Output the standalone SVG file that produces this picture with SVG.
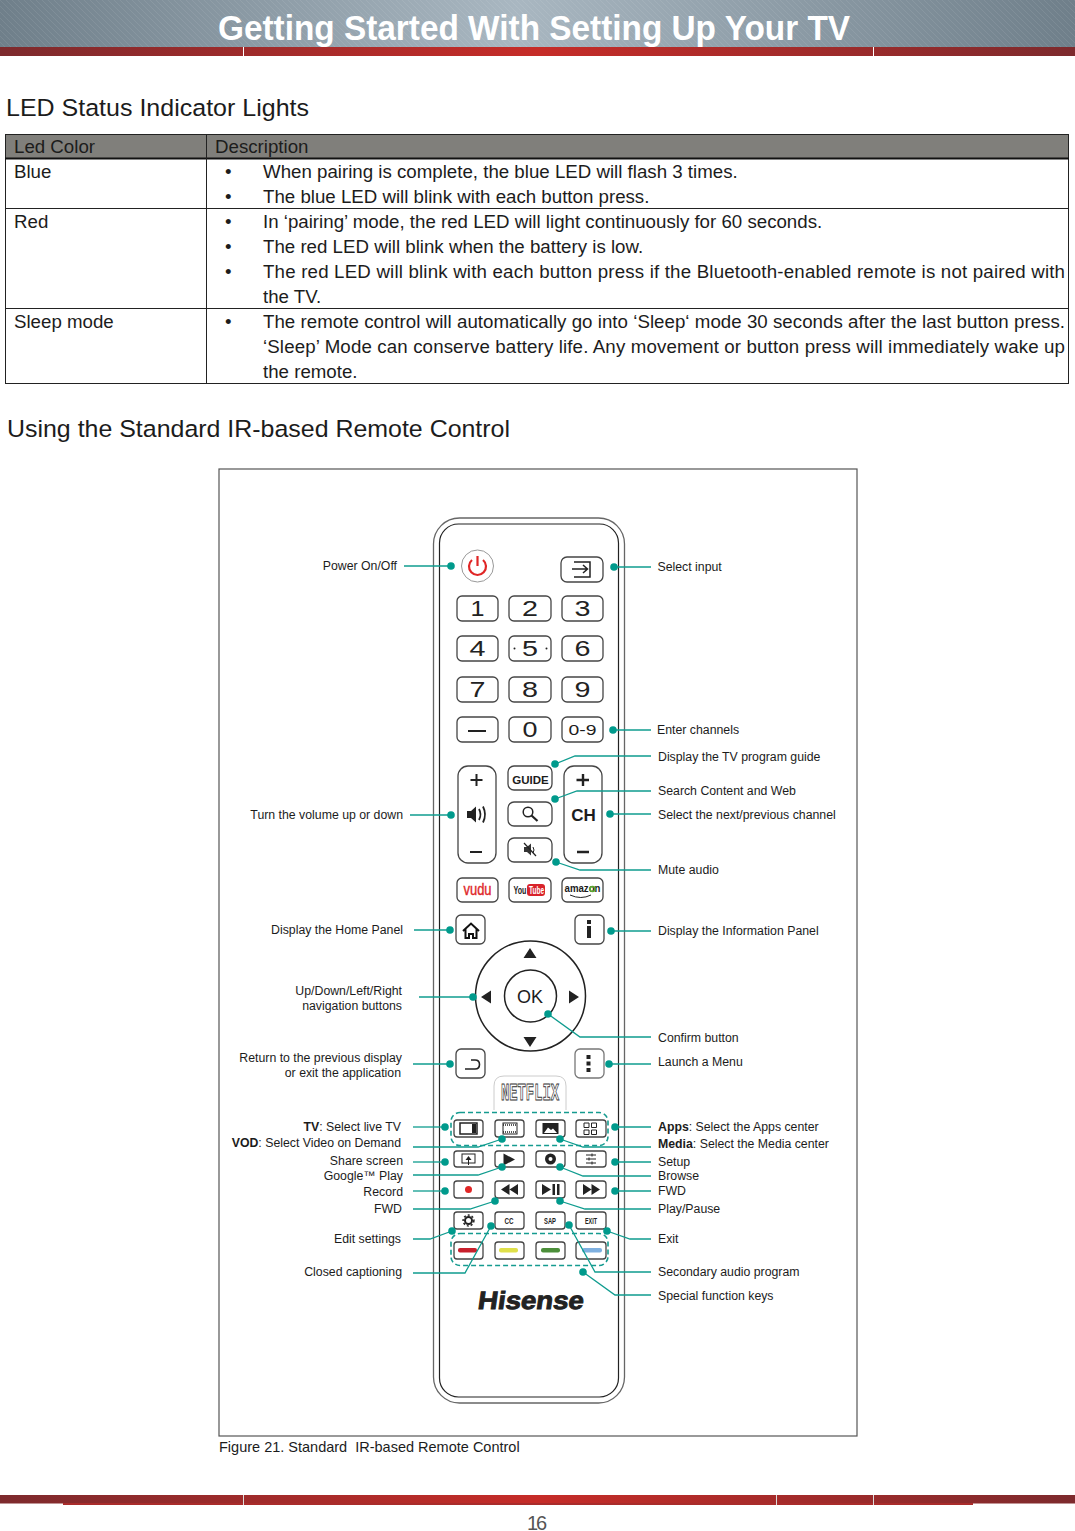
<svg xmlns="http://www.w3.org/2000/svg" width="1075" height="1531" viewBox="0 0 1075 1531">
<style>
text{font-family:"Liberation Sans",Arial,sans-serif;fill:#1c1c1c}
.h{font-size:24.5px}
.t{font-size:18.7px}
.lb{font-size:12.3px}
.b{fill:#fff;stroke:#454545;stroke-width:1.3}
.ic{fill:none;stroke:#222;stroke-width:1.8}
.i1{stroke-width:1}
.i15{stroke-width:1.5}
.f{fill:#222}
.dg{font-size:22px;text-anchor:middle;fill:#222}
.sm{font-size:9px;text-anchor:middle;font-weight:bold;fill:#222}
.l{fill:none;stroke:#0f9c8f;stroke-width:1.3}
.d{fill:#009a8c}
.ds{fill:none;stroke:#159b90;stroke-width:1.6;stroke-dasharray:5 3}
</style>
<defs>
<linearGradient id="gr" x1="0" x2="1" y1="0" y2="0"><stop offset="0" stop-color="#6f7f8a"/><stop offset=".48" stop-color="#a9b7c1"/><stop offset="1" stop-color="#6f7f8a"/></linearGradient>
<linearGradient id="rd" x1="0" x2="1" y1="0" y2="0"><stop offset="0" stop-color="#7d2a2d"/><stop offset=".5" stop-color="#c62c28"/><stop offset="1" stop-color="#7d2a2d"/></linearGradient>
<pattern id="ht" width="6" height="6" patternUnits="userSpaceOnUse"><path d="M0 0L6 6" stroke="#fff" stroke-opacity=".08" stroke-width="1"/></pattern>
</defs>
<rect width="1075" height="1531" fill="#fff"/>
<g id="header">
<rect width="1075" height="47" fill="url(#gr)"/><rect width="1075" height="47" fill="url(#ht)"/>
<rect y="47" width="1075" height="9" fill="url(#rd)"/>
<path d="M243.500 47V56M873.500 47V56" stroke="#fff"/>
<text x="218" y="40" font-size="35" font-weight="bold" style="fill:#fff" textLength="632" lengthAdjust="spacingAndGlyphs">Getting Started With Setting Up Your TV</text>
</g>
<text class="h" x="6" y="116" textLength="303" lengthAdjust="spacingAndGlyphs">LED Status Indicator Lights</text>
<g id="led-table">
<rect x="5.500" y="134.500" width="1063" height="24" fill="#807f7b"/>
<rect x="5.500" y="134.500" width="1063" height="249" fill="none" stroke="#222" stroke-width="1"/>
<path d="M5 158.500H1069" stroke="#111" stroke-width="2"/>
<path d="M5 208.500H1069M5 308.500H1069M206.500 134V384" stroke="#222" stroke-width="1"/>
<text class="t" x="14" y="153">Led Color</text><text class="t" x="215" y="153">Description</text>
<text class="t" x="14" y="178">Blue</text><text class="t" x="14" y="228">Red</text><text class="t" x="14" y="328">Sleep mode</text>
<text class="t" x="225" y="178">•</text><text class="t" x="263" y="178">When pairing is complete, the blue LED will flash 3 times.</text>
<text class="t" x="225" y="203">•</text><text class="t" x="263" y="203">The blue LED will blink with each button press.</text>
<text class="t" x="225" y="228">•</text><text class="t" x="263" y="228">In ‘pairing’ mode, the red LED will light continuously for 60 seconds.</text>
<text class="t" x="225" y="253">•</text><text class="t" x="263" y="253">The red LED will blink when the battery is low.</text>
<text class="t" x="225" y="278">•</text><text class="t" x="263" y="278" textLength="802">The red LED will blink with each button press if the Bluetooth-enabled remote is not paired with</text>
<text class="t" x="263" y="303">the TV.</text>
<text class="t" x="225" y="328">•</text><text class="t" x="263" y="328" textLength="802">The remote control will automatically go into ‘Sleep‘ mode 30 seconds after the last button press.</text>
<text class="t" x="263" y="353" textLength="802">‘Sleep’ Mode can conserve battery life. Any movement or button press will immediately wake up</text>
<text class="t" x="263" y="378">the remote.</text>
</g>
<text class="h" x="7" y="437" textLength="503" lengthAdjust="spacingAndGlyphs">Using the Standard IR-based Remote Control</text>
<rect id="figure-frame" x="219" y="469" width="638" height="967" fill="none" stroke="#555" stroke-width="1.200"/>
<g id="remote-body">
<rect x="433.500" y="518" width="191" height="885" rx="26" fill="#fff" stroke="#666" stroke-width="1.300"/>
<rect x="439.500" y="524" width="179" height="873" rx="19" fill="#fff" stroke="#222" stroke-width="1.200"/>
</g>
<g id="btn-power"><circle cx="477.500" cy="566" r="16" fill="#fff" stroke="#999"/><path d="M472 560a8.500 8.500 0 1 0 11 0M477.500 556V566" fill="none" stroke="#e02626" stroke-width="2.200"/></g>
<g id="btn-input"><rect class="b" x="561" y="557" width="42" height="25" rx="6"/><path class="ic i15" d="M572 569H587M583 565L587.500 569L583 573M574 562H590V577H574"/></g>
<g id="btn-1"><rect class="b" x="457" y="596" width="41" height="25" rx="5"/><text class="dg" x="477.500" y="616" textLength="14" lengthAdjust="spacingAndGlyphs">1</text></g>
<g id="btn-2"><rect class="b" x="509" y="596" width="42" height="25" rx="5"/><text class="dg" x="530" y="616" textLength="16" lengthAdjust="spacingAndGlyphs">2</text></g>
<g id="btn-3"><rect class="b" x="562" y="596" width="41" height="25" rx="5"/><text class="dg" x="582.500" y="616" textLength="16" lengthAdjust="spacingAndGlyphs">3</text></g>
<g id="btn-4"><rect class="b" x="457" y="636" width="41" height="25" rx="5"/><text class="dg" x="477.500" y="656" textLength="16" lengthAdjust="spacingAndGlyphs">4</text></g>
<g id="btn-5"><rect class="b" x="509" y="636" width="42" height="25" rx="5"/><text class="dg" x="530" y="656" textLength="16" lengthAdjust="spacingAndGlyphs">5</text><circle class="f" cx="514.500" cy="648.500" r="1"/><circle class="f" cx="546.500" cy="648.500" r="1"/></g>
<g id="btn-6"><rect class="b" x="562" y="636" width="41" height="25" rx="5"/><text class="dg" x="582.500" y="656" textLength="16" lengthAdjust="spacingAndGlyphs">6</text></g>
<g id="btn-7"><rect class="b" x="457" y="677" width="41" height="25" rx="5"/><text class="dg" x="477.500" y="697" textLength="16" lengthAdjust="spacingAndGlyphs">7</text></g>
<g id="btn-8"><rect class="b" x="509" y="677" width="42" height="25" rx="5"/><text class="dg" x="530" y="697" textLength="16" lengthAdjust="spacingAndGlyphs">8</text></g>
<g id="btn-9"><rect class="b" x="562" y="677" width="41" height="25" rx="5"/><text class="dg" x="582.500" y="697" textLength="16" lengthAdjust="spacingAndGlyphs">9</text></g>
<g id="btn-dash"><rect class="b" x="457" y="717" width="41" height="25" rx="5"/><path d="M468 731H486" stroke="#222" stroke-width="2"/></g>
<g id="btn-0"><rect class="b" x="509" y="717" width="42" height="25" rx="5"/><text class="dg" x="530" y="737" textLength="15" lengthAdjust="spacingAndGlyphs">0</text></g>
<g id="btn-09"><rect class="b" x="562" y="717" width="41" height="25" rx="5"/><text x="582.500" y="735" font-size="15" text-anchor="middle" textLength="28" lengthAdjust="spacingAndGlyphs">0-9</text></g>
<g id="btn-volume"><rect class="b" x="458" y="766" width="38" height="97" rx="10"/><path d="M470.500 780H482.500M476.500 774V786M470 852H482" stroke="#222" stroke-width="2"/><path class="f" d="M467 811H471L476 806.500V822.500L471 818H467Z"/><path class="ic" d="M479 809Q482 814.500 479 820M483 806.500Q487 814.500 483 822.500"/></g>
<g id="btn-guide"><rect class="b" x="508" y="766" width="44" height="24" rx="6"/><text x="530.500" y="784" font-size="11.500" font-weight="bold" text-anchor="middle">GUIDE</text></g>
<g id="btn-search"><rect class="b" x="508" y="802" width="44" height="24" rx="6"/><circle cx="528" cy="812" r="4.800" class="ic i15"/><path d="M531.500 815.500L537.500 821" stroke="#222" stroke-width="2.200"/></g>
<g id="btn-mute"><rect class="b" x="508" y="838" width="44" height="24" rx="6"/><path fill="#333" d="M524 847H527L531 843.500V855.500L527 852H524Z"/><path d="M524 843L536 856" stroke="#222" stroke-width="1.200"/><path class="ic i1" d="M533 847Q535 850 533 853"/></g>
<g id="btn-ch"><rect class="b" x="564" y="766" width="38" height="97" rx="10"/><path d="M576.500 780H589M583 774V786M577 852H589" stroke="#222" stroke-width="2.400"/><text x="583.500" y="821" font-size="17" font-weight="bold" text-anchor="middle">CH</text></g>
<g id="btn-vudu"><rect class="b" x="457" y="878" width="41" height="24" rx="5"/><text x="477.500" y="895" font-size="16" text-anchor="middle" textLength="28" lengthAdjust="spacingAndGlyphs" style="fill:#e0272a;stroke:#e0272a;stroke-width:.4">vudu</text></g>
<g id="btn-youtube"><rect class="b" x="509" y="878" width="42" height="24" rx="5"/><rect x="527" y="884" width="18" height="12" rx="3" fill="#d8232a"/><text x="513.500" y="894" font-size="10" font-weight="bold" textLength="13" lengthAdjust="spacingAndGlyphs">You</text><text x="529" y="894" font-size="10" font-weight="bold" style="fill:#fff" textLength="15" lengthAdjust="spacingAndGlyphs">Tube</text></g>
<g id="btn-amazon"><rect class="b" x="562" y="878" width="41" height="24" rx="5"/><text x="564.500" y="892" font-size="10.500" font-weight="bold" textLength="36" lengthAdjust="spacingAndGlyphs">amazon</text><path d="M570 895Q581 900 591 895" fill="none" stroke="#222"/><circle cx="592.500" cy="889" r="2.500" fill="none" stroke="#58a832" stroke-width="1.500"/></g>
<g id="btn-home"><rect class="b" x="456" y="915" width="29" height="29" rx="5"/><path d="M463 931L471 923.500L479 931M465.500 929V938H469V934H473V938H476.500V929" fill="none" stroke="#111" stroke-width="2"/></g>
<g id="btn-info"><rect class="b" x="575" y="915" width="29" height="29" rx="5"/><rect x="587" y="926" width="4" height="12" class="f"/><rect x="587" y="920" width="4" height="4" class="f"/></g>
<g id="btn-nav"><circle cx="530.500" cy="996" r="55" fill="#fff" stroke="#222" stroke-width="1.500"/><circle cx="530.500" cy="996" r="26" fill="#fff" stroke="#222" stroke-width="1.500"/><text x="530" y="1003" font-size="18" text-anchor="middle">OK</text><path class="f" d="M530 948L536.500 958H523.500ZM530 1047L536.500 1037H523.500ZM481 997L491 990.500V1003.500ZM579 997L569 990.500V1003.500Z"/></g>
<g id="btn-return"><rect class="b" x="456" y="1049" width="29" height="29" rx="5"/><path d="M465 1069H475Q479.500 1069 479.500 1064.500T475 1060H471" fill="none" stroke="#222" stroke-width="1.600"/></g>
<g id="btn-menu"><rect class="b" x="575" y="1049" width="29" height="29" rx="5" style="stroke:#777"/><path class="f" d="M586.500 1055h4v4h-4zM586.500 1061.500h4v4h-4zM586.500 1068h4v4h-4z"/></g>
<g id="btn-netflix"><path d="M494 1110V1086Q494 1076 504 1076H556Q566 1076 566 1086V1110" fill="#fff" stroke="#ccc"/><text x="501" y="1100" font-size="24" font-weight="bold" textLength="58" lengthAdjust="spacingAndGlyphs" style="font-family:'Liberation Mono',monospace;fill:#fff;stroke:#333;stroke-width:1">NETFLIX</text></g>
<g id="btn-tv"><rect class="b" x="454" y="1120" width="29" height="17" rx="3"/><rect x="460" y="1123" width="17" height="11" class="ic i15"/><rect x="472" y="1124" width="4" height="9" class="f"/></g>
<g id="btn-vod"><rect class="b" x="495" y="1120" width="29" height="17" rx="3"/><rect x="503" y="1123" width="14" height="11" class="ic i1"/><path d="M503 1125H517M503 1132H517" stroke="#222" stroke-dasharray="1 1" stroke-width="1.500"/></g>
<g id="btn-media"><rect class="b" x="536" y="1120" width="29" height="17" rx="3"/><rect x="542.500" y="1123" width="16" height="11" fill="#222"/><path d="M544 1133L548 1127.500L551 1130L553 1128.500L557 1133Z" fill="#fff"/></g>
<g id="btn-apps"><rect class="b" x="576" y="1120" width="30" height="17" rx="3"/><path class="ic i1" d="M584 1123h5v4.500h-5zM591.500 1123h5v4.500h-5zM584 1130h5v4.500h-5zM591.500 1130h5v4.500h-5z"/></g>
<g id="btn-share"><rect class="b" x="454" y="1151" width="29" height="16" rx="3"/><rect x="462" y="1154" width="13" height="9" class="ic i1"/><path class="f" d="M468.500 1156L471.500 1160H465.500Z"/><path d="M468.500 1159V1165" stroke="#222"/></g>
<g id="btn-play"><rect class="b" x="495" y="1151" width="29" height="16" rx="3"/><path class="f" d="M503.500 1153.500L515 1159.500L503.500 1165.500Z"/></g>
<g id="btn-browse"><rect class="b" x="536" y="1151" width="29" height="16" rx="3"/><circle cx="550.500" cy="1159" r="5.500" fill="#222"/><circle cx="550.500" cy="1159" r="2" fill="#fff"/></g>
<g id="btn-setup"><rect class="b" x="576" y="1151" width="30" height="16" rx="3"/><path stroke="#222" d="M586 1155H596M586 1159H596M586 1163H596M592 1153.500V1156.500M589 1157.500V1160.500M592 1161.500V1164.500"/></g>
<g id="btn-record"><rect class="b" x="454" y="1181" width="29" height="17" rx="3"/><circle cx="468.500" cy="1189.500" r="3.500" fill="#e02626"/></g>
<g id="btn-rew"><rect class="b" x="495" y="1181" width="29" height="17" rx="3"/><path class="f" d="M501 1189.500L509.500 1184V1195ZM509.500 1189.500L518 1184V1195Z"/></g>
<g id="btn-playpause"><rect class="b" x="536" y="1181" width="29" height="17" rx="3"/><path class="f" d="M542 1184L551 1189.500L542 1195ZM552.500 1184h2.500v11h-2.500zM557 1184h2.500v11H557z"/></g>
<g id="btn-fwd"><rect class="b" x="576" y="1181" width="30" height="17" rx="3"/><path class="f" d="M583 1184L591.500 1189.500L583 1195ZM591.500 1184L600 1189.500L591.500 1195Z"/></g>
<g id="btn-settings"><rect class="b" x="454" y="1212" width="29" height="17" rx="3"/><circle cx="468.500" cy="1220.500" r="3.500" fill="none" stroke="#222" stroke-width="2"/><circle cx="468.500" cy="1220.500" r="5.400" fill="none" stroke="#222" stroke-width="1.500" stroke-dasharray="2 2"/></g>
<g id="btn-cc"><rect class="b" x="495" y="1212" width="29" height="17" rx="3"/><text class="sm" x="509" y="1224" textLength="9" lengthAdjust="spacingAndGlyphs">CC</text></g>
<g id="btn-sap"><rect class="b" x="536" y="1212" width="29" height="17" rx="3"/><text class="sm" x="550" y="1224" textLength="12" lengthAdjust="spacingAndGlyphs">SAP</text></g>
<g id="btn-exit"><rect class="b" x="576" y="1212" width="30" height="17" rx="3"/><text class="sm" x="591" y="1224" textLength="12" lengthAdjust="spacingAndGlyphs">EXIT</text></g>
<g id="btn-red"><rect class="b" x="454" y="1242" width="29" height="17" rx="3"/><rect x="458" y="1248" width="19" height="4.500" rx="2" fill="#c8202c"/></g>
<g id="btn-yellow"><rect class="b" x="495" y="1242" width="29" height="17" rx="3"/><rect x="499" y="1248" width="19" height="4.500" rx="2" fill="#dfe04a"/></g>
<g id="btn-green"><rect class="b" x="536" y="1242" width="29" height="17" rx="3"/><rect x="541" y="1248" width="19" height="4.500" rx="2" fill="#4c8f3a"/></g>
<g id="btn-blue"><rect class="b" x="576" y="1242" width="30" height="17" rx="3"/><rect x="582" y="1248" width="20" height="4.500" rx="2" fill="#7eb0e0"/></g>
<g id="logo"><text transform="translate(477 1309) skewX(-8)" font-size="25" font-weight="bold" textLength="106" lengthAdjust="spacingAndGlyphs" style="fill:#222;stroke:#222;stroke-width:.9">Hisense</text></g>
<g id="connectors">
<rect class="ds" x="451" y="1112.500" width="157" height="33" rx="9"/>
<rect class="ds" x="451" y="1233.500" width="157" height="32" rx="9"/>
<path class="l" d="M404 566H451"/><path class="l" d="M614 567H651"/><path class="l" d="M613 730H651"/>
<path class="l" d="M555 764L575 756H651"/><path class="l" d="M555 799L577 791H651"/><path class="l" d="M610 814H651"/>
<path class="l" d="M556 862L580 870H651"/><path class="l" d="M410 815H451"/><path class="l" d="M414 930H450"/>
<path class="l" d="M611 931H651"/><path class="l" d="M419 997H473"/><path class="l" d="M548 1014L580 1037H651"/>
<path class="l" d="M413 1064H450"/><path class="l" d="M609 1064H651"/><path class="l" d="M413 1127H445"/>
<path class="l" d="M413 1147H478L502 1139"/><path class="l" d="M615 1127H651"/><path class="l" d="M560 1139L583 1147H651"/>
<path class="l" d="M413 1162H445"/><path class="l" d="M413 1175H478L502 1167"/><path class="l" d="M615 1162H651"/>
<path class="l" d="M560 1167L583 1176H651"/><path class="l" d="M413 1191H445"/><path class="l" d="M615 1191H651"/>
<path class="l" d="M413 1209H470L495 1201"/><path class="l" d="M560 1201L585 1209H651"/><path class="l" d="M413 1239H430L452 1231"/>
<path class="l" d="M413 1273H465L491 1226"/><path class="l" d="M569 1225L595 1272H651"/><path class="l" d="M607 1231L630 1239H651"/>
<path class="l" d="M583 1272L615 1295H651"/>
<g class="d">
<circle cx="451" cy="566" r="3.800"/><circle cx="614" cy="567" r="3.800"/><circle cx="613" cy="730" r="3.800"/><circle cx="555" cy="764" r="3.800"/><circle cx="555" cy="799" r="3.800"/><circle cx="610" cy="814" r="3.800"/><circle cx="556" cy="862" r="3.800"/><circle cx="451" cy="815" r="3.800"/><circle cx="450" cy="930" r="3.800"/><circle cx="611" cy="931" r="3.800"/><circle cx="473" cy="997" r="3.800"/><circle cx="548" cy="1014" r="3.800"/><circle cx="450" cy="1064" r="3.800"/><circle cx="609" cy="1064" r="3.800"/><circle cx="445" cy="1127" r="3.800"/><circle cx="502" cy="1139" r="3.800"/><circle cx="615" cy="1127" r="3.800"/><circle cx="560" cy="1139" r="3.800"/><circle cx="445" cy="1162" r="3.800"/><circle cx="502" cy="1167" r="3.800"/><circle cx="615" cy="1162" r="3.800"/><circle cx="560" cy="1167" r="3.800"/><circle cx="445" cy="1191" r="3.800"/><circle cx="615" cy="1191" r="3.800"/><circle cx="495" cy="1201" r="3.800"/><circle cx="560" cy="1201" r="3.800"/><circle cx="452" cy="1231" r="3.800"/><circle cx="491" cy="1226" r="3.800"/><circle cx="569" cy="1225" r="3.800"/><circle cx="607" cy="1231" r="3.800"/><circle cx="583" cy="1272" r="3.800"/>
</g>
</g>
<g id="labels-left" class="lb" text-anchor="end">
<text x="397" y="570">Power On/Off</text>
<text x="403" y="819">Turn the volume up or down</text>
<text x="403" y="934">Display the Home Panel</text>
<text x="402" y="995">Up/Down/Left/Right</text>
<text x="402" y="1010">navigation buttons</text>
<text x="402" y="1062">Return to the previous display</text>
<text x="401" y="1077">or exit the application</text>
<text x="401" y="1131"><tspan font-weight="bold">TV</tspan>: Select live TV</text>
<text x="401" y="1147"><tspan font-weight="bold">VOD</tspan>: Select Video on Demand</text>
<text x="403" y="1165">Share screen</text>
<text x="403" y="1180">Google™ Play</text>
<text x="403" y="1196">Record</text>
<text x="402" y="1213">FWD</text>
<text x="401" y="1243">Edit settings</text>
<text x="402" y="1276">Closed captioning</text>
</g>
<g id="labels-right" class="lb">
<text x="657.500" y="571">Select input</text>
<text x="657" y="734">Enter channels</text>
<text x="658" y="761">Display the TV program guide</text>
<text x="658" y="795">Search Content and Web</text>
<text x="658" y="819">Select the next/previous channel</text>
<text x="658" y="874">Mute audio</text>
<text x="658" y="935">Display the Information Panel</text>
<text x="658" y="1042">Confirm button</text>
<text x="658" y="1066">Launch a Menu</text>
<text x="658" y="1131"><tspan font-weight="bold">Apps</tspan>: Select the Apps center</text>
<text x="658" y="1148"><tspan font-weight="bold">Media</tspan>: Select the Media center</text>
<text x="658" y="1166">Setup</text>
<text x="658" y="1180">Browse</text>
<text x="658" y="1195">FWD</text>
<text x="658" y="1213">Play/Pause</text>
<text x="658" y="1243">Exit</text>
<text x="658" y="1276">Secondary audio program</text>
<text x="658" y="1300">Special function keys</text>
</g>
<text x="219" y="1452" font-size="14.500" style="white-space:pre">Figure 21. Standard  IR-based Remote Control</text>
<g id="footer">
<rect y="1495" width="1075" height="8.500" fill="url(#rd)"/>
<rect x="63" y="1503" width="910" height="2" fill="#a92c2b"/>
<path d="M243.500 1495V1505M776.500 1495V1505M873.500 1495V1505" stroke="#ddd"/>
<text x="527" y="1530" font-size="20" textLength="20" lengthAdjust="spacing" style="fill:#555">16</text>
</g>
</svg>
